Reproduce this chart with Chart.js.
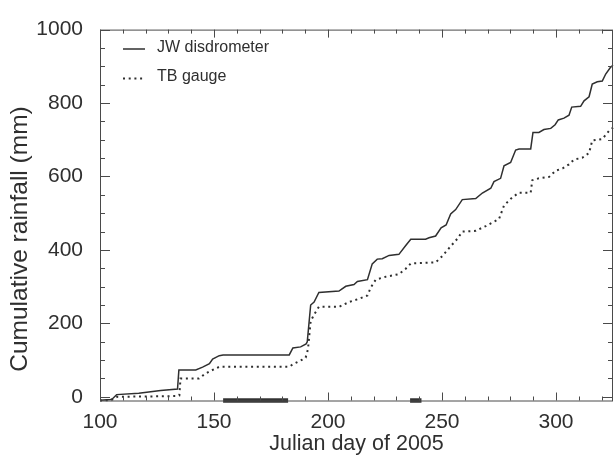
<!DOCTYPE html>
<html>
<head>
<meta charset="utf-8">
<script src="https://cdn.jsdelivr.net/npm/chart.js@4.4.1/dist/chart.umd.min.js"></script>
<style>
  html, body { margin: 0; padding: 0; background: #fff; }
  #wrap { width: 614px; height: 457px; }
</style>
</head>
<body>
<div id="wrap"><canvas id="rainChart" width="614" height="457"></canvas></div>
<script>
// cumulative rainfall (Julian day -> mm)
const jwDays = [100, 104.7, 105.5, 107.3, 117, 126.6, 134, 134.6, 142, 145, 148, 149.4, 152.3, 154,
  183, 184.6, 188, 190.4, 190.9, 192.4, 193.9, 196, 204.8, 207.8, 211.4, 212.9, 217.3, 219.4,
  221.6, 223.8, 226.8, 231.1, 234.1, 236.3, 242.8, 244.3, 247.2, 249.6, 251.8, 253.8, 256,
  258.9, 264.8, 267.7, 271.4, 272.8, 275.7, 277.2, 280.1, 282.3, 283.8, 288.9, 289.9, 292.5,
  294.7, 297.7, 299.6, 301, 303.5, 305.7, 306.9, 310.8, 312.3, 314.5, 315.9, 318.1, 320.3,
  321.8, 324, 325];
const jwRain = [-9, -7, -5, 6, 10, 17, 21, 73, 73, 81, 90, 103, 112, 114,
  114, 133, 136, 144, 150, 250, 258, 284, 288, 301, 306, 314, 319, 362,
  375, 376, 385, 388, 412, 429, 429, 433, 438, 460, 468, 498, 510,
  537, 540, 555, 568, 586, 595, 629, 638, 672, 675, 675, 720, 720,
  728, 731, 741, 754, 759, 767, 789, 791, 806, 817, 852, 858, 860,
  879, 898, 903];

const tbDays = [100, 105, 107.6, 133, 134.8, 135.3, 143.4, 146, 148, 151, 152.5, 183, 185, 188.7,
  190.2, 191.2, 192.4, 193.9, 196, 204.8, 209.2, 213.6, 217.3, 218.7, 220.9, 225.3, 231.1,
  234.1, 236.3, 247.2, 250.1, 253.1, 256.8, 258.9, 264.8, 269.2, 275, 277.2, 280.8, 283.8,
  288.9, 289.6, 292.5, 297, 299.9, 302.9, 305.7, 307.9, 311.5, 314.5, 315.9, 320.3, 323.2, 325];
const tbRain = [-10, -9, 0, 2, 4, 50, 50, 62, 69, 78, 82, 82, 90, 101,
  107, 129, 206, 224, 245, 245, 258, 267, 276, 297, 319, 327, 334,
  349, 363, 366, 383, 405, 431, 450, 452, 465, 484, 521, 543, 556,
  556, 590, 595, 599, 616, 622, 633, 646, 651, 664, 698, 702, 724, 733];

// periods marked by the heavy bars on the day axis
const markStart = [154, 236];
const markEnd = [182.5, 241];

const xTickValues = [100, 150, 200, 250, 300];
const yTickValues = [0, 200, 400, 600, 800, 1000];
const xMinorStep = 10;
const yMinorStep = 50;

const FONT = "'Liberation Sans', Arial, Helvetica, sans-serif";
const INK = '#2f2f2f';
const AXIS = '#4a4a4a';

const toPoints = (xs, ys) => xs.map((d, i) => ({ x: d, y: ys[i] }));

const markSets = markStart.map((s, i) => ({
  label: 'mark' + i,
  data: [{ x: s, y: -10 }, { x: markEnd[i], y: -10 }],
  borderColor: '#333',
  borderWidth: 4.5,
  borderCapStyle: 'butt',
  pointRadius: 0,
  clip: false
}));

// frame with inward ticks on all four sides
const framePlugin = {
  id: 'frame',
  afterDatasetsDraw(chart) {
    const { ctx, chartArea: a, scales: { x, y } } = chart;
    ctx.save();
    ctx.strokeStyle = AXIS;
    ctx.lineWidth = 1;
    ctx.strokeRect(a.left + 0.5, a.top + 0.5, a.right - a.left - 1, a.bottom - a.top);
    ctx.beginPath();
    for (let d = x.min; d <= x.max; d += xMinorStep) {
      const px = Math.round(x.getPixelForValue(d)) + 0.5;
      const len = d % 50 === 0 ? 8 : 4;
      ctx.moveTo(px, a.bottom); ctx.lineTo(px, a.bottom - len);
      ctx.moveTo(px, a.top); ctx.lineTo(px, a.top + len);
    }
    for (let v = 0; v <= y.max; v += yMinorStep) {
      const py = Math.round(y.getPixelForValue(v)) + 0.5;
      const len = v % 200 === 0 ? 10 : 5;
      ctx.moveTo(a.left, py); ctx.lineTo(a.left + len, py);
      ctx.moveTo(a.right, py); ctx.lineTo(a.right - len, py);
    }
    ctx.stroke();
    ctx.restore();
  },
  afterDraw(chart) {
    const { ctx } = chart;
    ctx.save();
    // legend, drawn inside the plot
    ctx.strokeStyle = INK;
    ctx.lineWidth = 1.5;
    ctx.beginPath(); ctx.moveTo(123, 49); ctx.lineTo(145, 49); ctx.stroke();
    ctx.lineWidth = 2;
    ctx.setLineDash([2, 3.7]);
    ctx.beginPath(); ctx.moveTo(123, 78.5); ctx.lineTo(145, 78.5); ctx.stroke();
    ctx.setLineDash([]);
    ctx.fillStyle = INK;
    ctx.font = '16px ' + FONT;
    ctx.textBaseline = 'middle';
    ctx.fillText('JW disdrometer', 157, 48);
    ctx.fillText('TB gauge', 157, 77);
    // y axis title
    ctx.translate(20, 239);
    ctx.rotate(-Math.PI / 2);
    ctx.font = '24.5px ' + FONT;
    ctx.textAlign = 'center';
    ctx.fillText('Cumulative rainfall (mm)', 0, 0);
    ctx.restore();
  }
};

new Chart(document.getElementById('rainChart'), {
  type: 'line',
  data: {
    datasets: [
      {
        label: 'JW disdrometer',
        data: toPoints(jwDays, jwRain),
        borderColor: INK,
        borderWidth: 1.5,
        pointRadius: 0,
        tension: 0,
        clip: false
      },
      {
        label: 'TB gauge',
        data: toPoints(tbDays, tbRain),
        borderColor: INK,
        borderWidth: 2,
        borderDash: [2, 3.7],
        borderCapStyle: 'butt',
        pointRadius: 0,
        tension: 0,
        clip: false
      },
      ...markSets
    ]
  },
  options: {
    responsive: false,
    animation: false,
    layout: { padding: { top: 10, right: 1, left: 0, bottom: 0 } },
    plugins: { legend: { display: false }, tooltip: { enabled: false } },
    scales: {
      x: {
        type: 'linear',
        min: 100,
        max: 325,
        afterBuildTicks: s => { s.ticks = xTickValues.map(v => ({ value: v })); },
        afterFit: s => { s.height = 56.5; },
        grid: { display: false, drawTicks: false },
        border: { display: false },
        ticks: { font: { family: FONT, size: 21 }, color: INK, padding: 9, maxRotation: 0, autoSkip: false,
          callback: v => String(v) },
        title: { display: true, text: 'Julian day of 2005', font: { family: FONT, size: 21.5 }, color: INK, padding: 0 }
      },
      y: {
        type: 'linear',
        min: -10,
        max: 1000,
        afterBuildTicks: s => { s.ticks = yTickValues.map(v => ({ value: v })); },
        afterFit: s => { s.width = 100; },
        grid: { display: false, drawTicks: false },
        border: { display: false },
        ticks: { font: { family: FONT, size: 21 }, color: INK, padding: 17, autoSkip: false,
          callback: v => String(v) }
      }
    }
  },
  plugins: [framePlugin]
});
</script>
</body>
</html>
